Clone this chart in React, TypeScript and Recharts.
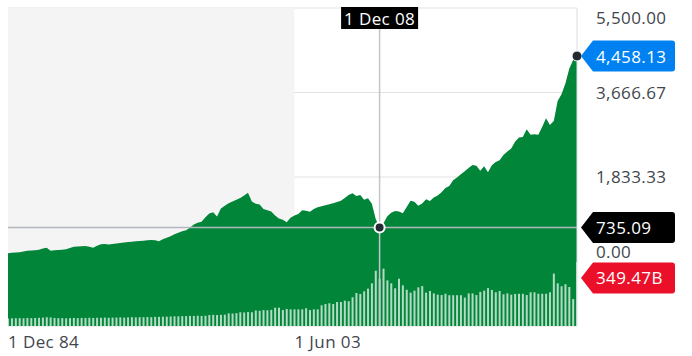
import React from 'react';
import {
  ComposedChart,
  Area,
  Bar,
  XAxis,
  YAxis,
  CartesianGrid,
  ReferenceLine,
  ReferenceDot,
  ReferenceArea,
} from 'recharts';

// Quarterly points, 1 Dec 84 (index 0) to the last quarter (index 147)
const xTickIndex = [0, 74];
const xTickLabels = ['1 Dec 84', '1 Jun 03'];
const priceTicks = [0, 1833.333, 3666.667, 5500];

const price = [
  178, 190, 196, 202, 218, 232, 240, 246, 252, 280,
  300, 235, 243, 248, 255, 265, 290, 318, 325, 330,
  336, 318, 300, 340, 372, 380, 370, 378, 392, 401,
  412, 420, 428, 437, 447, 452, 458, 465, 462, 440,
  485, 515, 545, 590, 625, 655, 680, 733, 800, 840,
  864, 960, 1040, 1068, 975, 1150, 1210, 1265, 1300, 1340,
  1380, 1430, 1493, 1300, 1255, 1235, 1139, 1110, 1085, 1000,
  930, 905, 851, 950, 1000, 1030, 1110, 1100, 1080, 1140,
  1175, 1200, 1222, 1240, 1265, 1290, 1319, 1380, 1440, 1480,
  1421, 1445, 1340, 1372, 1250, 920, 735.09, 829, 980, 1060,
  1096, 1085, 1046, 1180, 1320, 1298, 1211, 1260, 1350, 1313,
  1390, 1430, 1500, 1595, 1638, 1760, 1820, 1890, 1960, 2030,
  2094, 2079, 1970, 2065, 1935, 2090, 2160, 2195, 2310, 2385,
  2450, 2600, 2690, 2700, 2869, 2750, 2760, 2750, 2920, 3107,
  2962, 3050, 3483, 3630, 3860, 4180, 4370, 4458.13,
];

// Volume in billions
const volume = [
  41, 42, 42, 43, 42, 44, 43, 44, 45, 46,
  48, 47, 44, 43, 43, 42, 43, 44, 43, 44,
  44, 45, 44, 45, 45, 46, 45, 46, 46, 47,
  46, 47, 48, 47, 48, 48, 49, 48, 50, 50,
  51, 51, 52, 53, 53, 54, 54, 55, 55, 56,
  55, 56, 60, 61, 60, 61, 62, 69, 68, 70,
  75, 74, 76, 75, 84, 83, 87, 86, 88, 100,
  100, 87, 93, 91, 91, 91, 91, 97, 87, 91,
  91, 113, 120, 124, 120, 131, 131, 138, 135, 157,
  180, 175, 189, 204, 233, 302, 258, 313, 249, 233,
  206, 258, 222, 198, 182, 193, 211, 218, 182, 191,
  178, 171, 169, 176, 168, 168, 168, 168, 155, 178,
  178, 169, 186, 193, 207, 197, 184, 191, 173, 178,
  171, 175, 176, 176, 169, 184, 184, 176, 176, 176,
  184, 286, 233, 217, 228, 213, 147, 349.47,
];

const hoverIndex = 96;
const hoverLabel = '1 Dec 08';
const hoverPrice = 735.09;
const lastIndex = 147;
const lastPrice = 4458.13;
const lastVolume = 349.47;
const shadedTo = 74;

const rows = price.map((p, i) => ({ i, p, v: volume[i] }));

const FONT = '"Open Sans", "Noto Sans", sans-serif';
const GREEN = '#008539';
const TEXT = '#3f464d';
const FS = 17;
const LS = 0.4;
const FW = 500;

const fmt = (v: number) =>
  v.toLocaleString('en-US', { minimumFractionDigits: 2, maximumFractionDigits: 2 });

const tagShape = (tipX: number, cy: number, label: string, color: string) => {
  const h = 15.5;
  const left = tipX + 12;
  const right = tipX + 94;
  const d = `M ${tipX} ${cy} L ${left} ${cy - h} L ${right - 3} ${cy - h} Q ${right} ${cy - h} ${right} ${cy - h + 3} L ${right} ${cy + h - 3} Q ${right} ${cy + h} ${right - 3} ${cy + h} L ${left} ${cy + h} Z`;
  return (
    <g>
      <path d={d} fill={color} />
      <text
        x={tipX + 15}
        y={cy}
        dominantBaseline="central"
        fill="#ffffff"
        fontSize={FS}
        fontWeight={FW}
        letterSpacing={LS}
        fontFamily={FONT}
      >
        {label}
      </text>
    </g>
  );
};

const lineTag = (label: string, color: string) => (props: any) => {
  const vb = props.viewBox;
  return tagShape(vb.x + vb.width + 4, vb.y + vb.height / 2, label, color);
};

const dotTag = (label: string, color: string, dy: number) => (props: any) => {
  const vb = props.viewBox;
  return tagShape(vb.x + vb.width / 2 + 4, vb.y + vb.height / 2 + dy, label, color);
};

const dateTag = (props: any) => {
  const vb = props.viewBox;
  const cx = vb.x;
  return (
    <g>
      <rect x={cx - 38.5} y={vb.y - 1} width={77} height={22} fill="#000000" />
      <text
        x={cx}
        y={vb.y + 10}
        textAnchor="middle"
        dominantBaseline="central"
        fill="#ffffff"
        fontSize={FS}
        fontWeight={FW}
        letterSpacing={LS}
        fontFamily={FONT}
      >
        {hoverLabel}
      </text>
    </g>
  );
};

const PriceTick = (props: any) => {
  const { x, y, payload } = props;
  const v = payload.value;
  const shift = v >= 5500 ? 8 : v === 0 ? -9.5 : 0;
  return (
    <text
      x={x}
      y={y + shift}
      textAnchor="start"
      dominantBaseline="central"
      fill={TEXT}
      fontSize={FS}
      fontWeight={FW}
      letterSpacing={LS}
      fontFamily={FONT}
    >
      {fmt(v)}
    </text>
  );
};

const DateTick = (props: any) => {
  const { x, y, payload } = props;
  const idx = xTickIndex.indexOf(payload.value);
  return (
    <text
      x={x}
      y={y + 15}
      textAnchor="start"
      dominantBaseline="central"
      fill={TEXT}
      fontSize={FS}
      fontWeight={FW}
      letterSpacing={LS}
      fontFamily={FONT}
    >
      {idx >= 0 ? xTickLabels[idx] : ''}
    </text>
  );
};

export default function App() {
  return (
    <div
      style={{
        position: 'absolute',
        left: 0,
        top: 0,
        width: 692,
        height: 356,
        background: '#ffffff',
        fontFamily: FONT,
      }}
    >
      <ComposedChart
        width={692}
        height={356}
        data={rows}
        margin={{ top: 8, right: 10, bottom: 6, left: 8 }}
      >
        <XAxis
          dataKey="i"
          type="number"
          domain={[0, lastIndex]}
          ticks={xTickIndex}
          allowDataOverflow
          axisLine={false}
          tickLine={false}
          tickSize={0}
          tickMargin={0}
          height={24}
          tick={<DateTick />}
        />
        <YAxis
          yAxisId="p"
          orientation="right"
          type="number"
          domain={[-1400, 5500]}
          ticks={priceTicks}
          allowDataOverflow
          width={105}
          axisLine={{ stroke: '#dcdde2' }}
          tickLine={false}
          tickSize={0}
          tickMargin={19}
          tick={<PriceTick />}
        />
        <YAxis yAxisId="vol" hide type="number" domain={[0, 1736]} allowDataOverflow />
        <ReferenceArea
          yAxisId="p"
          x1={0}
          x2={shadedTo}
          fill="#f4f4f4"
          fillOpacity={1}
          stroke="none"
          ifOverflow="extendDomain"
        />
        <CartesianGrid yAxisId="p" vertical={false} stroke="#e2e2e2" />
        <Area
          yAxisId="p"
          dataKey="p"
          type="linear"
          fill={GREEN}
          fillOpacity={1}
          stroke="none"
          baseValue="dataMin"
          isAnimationActive={false}
          dot={false}
          activeDot={false}
        />
        <Bar
          yAxisId="vol"
          dataKey="v"
          barSize={2}
          fill="#ffffff"
          fillOpacity={0.7}
          isAnimationActive={false}
        />
        <ReferenceLine
          yAxisId="p"
          x={hoverIndex}
          stroke="#c3c5cc"
          strokeWidth={1.5}
          label={dateTag}
        />
        <ReferenceLine
          yAxisId="p"
          y={hoverPrice}
          stroke="#b4b6bd"
          strokeWidth={1.5}
          label={lineTag(fmt(hoverPrice), '#000000')}
        />
        <ReferenceDot
          yAxisId="p"
          x={hoverIndex}
          y={hoverPrice}
          r={5}
          fill="#232a31"
          stroke="#ffffff"
          strokeWidth={2}
        />
        <ReferenceDot
          yAxisId="p"
          x={lastIndex}
          y={lastPrice}
          r={5}
          fill="#232a31"
          stroke="#ffffff"
          strokeWidth={1}
          label={dotTag(fmt(lastPrice), '#0081f2', 0)}
        />
        <ReferenceDot
          yAxisId="vol"
          x={lastIndex}
          y={lastVolume}
          r={1}
          fill="none"
          stroke="none"
          label={dotTag(`${fmt(lastVolume)}B`, '#eb0f29', 16)}
        />
      </ComposedChart>
    </div>
  );
}
